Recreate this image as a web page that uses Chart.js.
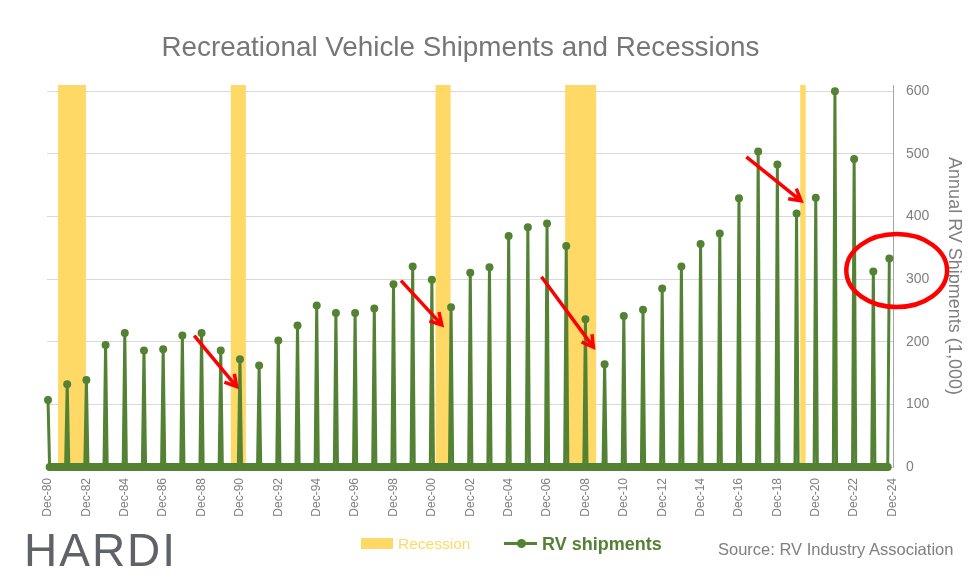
<!DOCTYPE html>
<html>
<head>
<meta charset="utf-8">
<script src="https://cdn.jsdelivr.net/npm/chart.js@4/dist/chart.umd.min.js"></script>
<style>
  body { margin: 0; background: #ffffff; }
  #wrap { position: relative; width: 975px; height: 577px; overflow: hidden; font-family: "Liberation Sans", Arial, sans-serif; background: #fff; }
  #c { position: absolute; left: 0; top: 0; }
  .abs { position: absolute; white-space: nowrap; }
</style>
</head>
<body>
<div id="wrap">
  <canvas id="c" width="975" height="577"></canvas>
  <div class="abs" id="title" style="left:0;top:31px;width:921px;text-align:center;font-size:27.8px;line-height:32px;color:#767676;">Recreational Vehicle Shipments and Recessions</div>
  <div class="abs" style="left:24px;top:525px;font-size:46px;line-height:50px;color:#5F6369;letter-spacing:2px;">HARDI</div>
  <div class="abs" style="left:361px;top:538px;width:32px;height:11px;background:#FFD966;"></div>
  <div class="abs" style="left:398px;top:534.6px;font-size:15.5px;line-height:18px;color:#FFD966;">Recession</div>
  <div class="abs" style="left:504px;top:542px;width:33px;height:3px;background:#548235;"></div>
  <div class="abs" style="left:516.5px;top:539px;width:9px;height:9px;border-radius:50%;background:#548235;"></div>
  <div class="abs" style="left:542px;top:533.7px;font-size:18px;line-height:20px;font-weight:bold;color:#548235;">RV shipments</div>
  <div class="abs" style="left:718px;top:540px;font-size:16.5px;line-height:18px;color:#7F7F7F;">Source: RV Industry Association</div>
</div>
<script>
// ---------- data ----------
const MONTHS = ['Jan','Feb','Mar','Apr','May','Jun','Jul','Aug','Sep','Oct','Nov','Dec'];

const years = [1980,1981,1982,1983,1984,1985,1986,1987,1988,1989,
               1990,1991,1992,1993,1994,1995,1996,1997,1998,1999,
               2000,2001,2002,2003,2004,2005,2006,2007,2008,2009,
               2010,2011,2012,2013,2014,2015,2016,2017,2018,2019,
               2020,2021,2022,2023,2024];

// annual RV shipments, thousands
const shipments = [107,132,139,195,214,186,188,210,214,186,
                   172,162,202,226,258,246,246,253,292,320,
                   299,255,310,319,369,383,389,353,236,164,
                   241,251,285,320,356,373,429,504,483,405,
                   430,600,492,312,333];

// each year's value sits in December; the latest one at its last reported month
const pointMonth = 'Dec';
const latestPointDate = 'Oct-24';

const tickLabels = ['Dec-80','Dec-82','Dec-84','Dec-86','Dec-88','Dec-90','Dec-92','Dec-94',
                    'Dec-96','Dec-98','Dec-00','Dec-02','Dec-04','Dec-06','Dec-08','Dec-10',
                    'Dec-12','Dec-14','Dec-16','Dec-18','Dec-20','Dec-22','Dec-24'];

const yTicks = [0,100,200,300,400,500,600];

// recession months (first, last)
const recessions = [['Jul-81','Nov-82'],['Jul-90','Mar-91'],['Mar-01','Nov-01'],['Dec-07','Jun-09'],['Mar-20','May-20']];

// red annotation arrows: [from month-index, from value, to month-index, to value]
const arrows = [[91.4,209.8,117.9,128.3],[220.7,297.7,246.2,226.9],[308.5,303.7,341.0,191.3],[436.6,495.4,470.8,425.1]];
// red ellipse: [centre month-index, centre value, radius months, radius value]
const highlight = [530.6,313.6,31.5,58.3];

// ---------- helpers ----------
function monthIndex(label) {
  const [m, yy] = label.split('-');
  const n = parseInt(yy, 10);
  const y = n < 50 ? 2000 + n : 1900 + n;
  return (y - 1980) * 12 + MONTHS.indexOf(m) - 11; // Dec-80 -> 0
}

const pointIdx = years.map((y, i) => i === years.length - 1
  ? monthIndex(latestPointDate)
  : monthIndex(pointMonth + '-' + String(y).slice(2)));
const lastIdx = pointIdx[pointIdx.length - 1];

const lineData = [];
for (let m = 0; m <= lastIdx; m++) {
  const k = pointIdx.indexOf(m);
  lineData.push({ x: m, y: k >= 0 ? shipments[k] : 0 });
}

const recData = [];
recessions.forEach(([a, b]) => {
  for (let m = monthIndex(a); m <= monthIndex(b); m++) recData.push({ x: m, y: 1 });
});

// ---------- annotation plugin ----------
const annotationPlugin = {
  id: 'redNotes',
  afterDatasetsDraw(chart) {
    const { ctx, scales: { x, y } } = chart;
    ctx.save();
    ctx.strokeStyle = '#FF0000';
    ctx.lineWidth = 3.5;
    ctx.lineJoin = 'miter';
    arrows.forEach(([m0, v0, m1, v1]) => {
      const x0 = x.getPixelForValue(m0), y0 = y.getPixelForValue(v0);
      const x1 = x.getPixelForValue(m1), y1 = y.getPixelForValue(v1);
      const ang = Math.atan2(y1 - y0, x1 - x0);
      ctx.beginPath();
      ctx.moveTo(x0, y0);
      ctx.lineTo(x1 - 2 * Math.cos(ang), y1 - 2 * Math.sin(ang));
      ctx.stroke();
      const L = 13, a = Math.PI / 6;
      ctx.beginPath();
      ctx.moveTo(x1 - L * Math.cos(ang - a), y1 - L * Math.sin(ang - a));
      ctx.lineTo(x1, y1);
      ctx.lineTo(x1 - L * Math.cos(ang + a), y1 - L * Math.sin(ang + a));
      ctx.stroke();
    });
    const [cm, cv, rm, rv] = highlight;
    const cx = x.getPixelForValue(cm), cy = y.getPixelForValue(cv);
    const rx = x.getPixelForValue(cm + rm) - cx;
    const ry = cy - y.getPixelForValue(cv + rv);
    ctx.lineWidth = 4.5;
    ctx.beginPath();
    ctx.ellipse(cx, cy, rx, ry, 0, 0, Math.PI * 2);
    ctx.stroke();
    ctx.restore();
  }
};

Chart.defaults.font.family = '"Liberation Sans", Arial, sans-serif';

new Chart(document.getElementById('c'), {
  type: 'line',
  data: {
    datasets: [
      {
        type: 'bar', label: 'Recession', data: recData, yAxisID: 'yRec',
        backgroundColor: '#FFD966', borderWidth: 0,
        barPercentage: 1, categoryPercentage: 1, order: 2
      },
      {
        type: 'line', label: 'RV shipments', data: lineData, yAxisID: 'y',
        borderColor: '#548235', backgroundColor: '#548235', borderWidth: 3,
        pointRadius: 4, pointHoverRadius: 4, pointBackgroundColor: '#548235', pointBorderWidth: 0,
        tension: 0, clip: false, order: 1
      }
    ]
  },
  options: {
    animation: false,
    responsive: false,
    events: [],
    layout: { padding: { left: 47, right: 0, top: 85, bottom: 0 } },
    plugins: { legend: { display: false }, tooltip: { enabled: false }, title: { display: false } },
    scales: {
      x: {
        type: 'linear', min: -0.63, max: 528.3, offset: false,
        grid: { display: false }, border: { display: false },
        afterBuildTicks: s => { s.ticks = tickLabels.map(l => ({ value: monthIndex(l) })); },
        ticks: {
          autoSkip: false, minRotation: 90, maxRotation: 90, padding: 3,
          color: '#7F7F7F', font: { size: 12 },
          callback: (v, i) => tickLabels[i]
        },
        afterFit: s => { s.height = 110; s.paddingLeft = 0; s.paddingRight = 0; }
      },
      y: {
        position: 'right', min: 0, max: 610,
        afterBuildTicks: s => { s.ticks = yTicks.map(v => ({ value: v })); },
        grid: { color: '#D9D9D9', lineWidth: 1, drawTicks: false },
        border: { display: true, color: '#A6A6A6', width: 1 },
        ticks: { padding: 13, color: '#7F7F7F', font: { size: 14 } },
        title: {
          display: true, text: 'Annual RV Shipments (1,000)', color: '#7F7F7F',
          font: { size: 18 }, padding: { top: 10, bottom: 0 }
        },
        afterFit: s => { s.width = 82; s.paddingTop = 0; s.paddingBottom = 0; }
      },
      yRec: { display: false, min: 0, max: 1 }
    }
  },
  plugins: [annotationPlugin]
});
</script>
</body>
</html>
